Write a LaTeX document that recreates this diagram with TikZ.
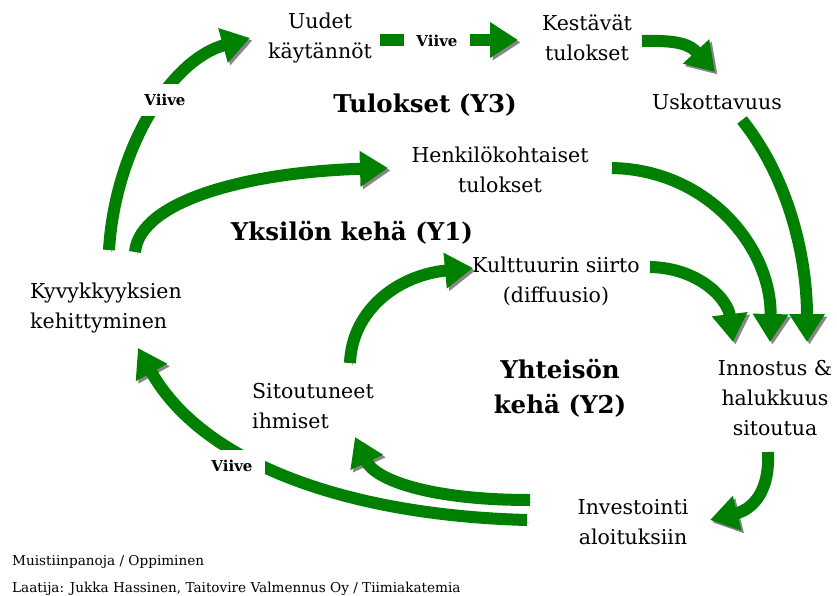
\documentclass[tikz,border=0pt]{standalone}
\usepackage{fontspec}
\setmainfont{DejaVu Serif}
\usetikzlibrary{positioning,arrows.meta,calc}

\definecolor{flowgreen}{RGB}{0,128,0}
\definecolor{flowshade}{RGB}{135,135,135}

\begin{document}
\begin{tikzpicture}[x=1pt, y=-1pt,
  txt/.style={font=\fontsize{20.5}{30}\selectfont, align=center, inner sep=0pt},
  txtl/.style={txt, align=left, anchor=west},
  head/.style={font=\fontsize{24.5}{35}\selectfont\bfseries, align=center, inner sep=0pt},
  delay/.style={font=\fontsize{15}{17}\selectfont\bfseries, fill=white, inner xsep=12pt, inner ysep=10pt},
  note/.style={font=\fontsize{13.6}{15}\selectfont, anchor=west, inner sep=0pt},
  flow/.style={line width=12pt, draw=flowgreen,
    -{Triangle[length=28pt,width=34pt]},
    preaction={draw=flowshade, transform canvas={xshift=2.5pt,yshift=-2.5pt}}}]
  \useasboundingbox (0,0) rectangle (837,596);

  % texts
  \node[txt] (uudet) at (320,38) {Uudet\\käytännöt};
  \node[txt] (kest) at (587,38) {Kestävät\\tulokset};
  \node[txt] (usk) at (717,102) {Uskottavuus};
  \node[txt] (henk) at (500,170) {Henkilökohtaiset\\tulokset};
  \node[txt] (kult) at (556,281) {Kulttuurin siirto\\(diffuusio)};
  \node[txt] (inno) at (775,398) {Innostus \&\\halukkuus\\sitoutua};
  \node[txt] (inv) at (633,522) {Investointi\\aloituksiin};
  \node[txtl] (sit) at (252,406) {Sitoutuneet\\ihmiset};
  \node[txtl] (kyv) at (30,308) {Kyvykkyyksien\\kehittyminen};
  \node[head] (y3) at (425,105) {Tulokset (Y3)};
  \node[head] (y1) at (352,233) {Yksilön kehä (Y1)};
  \node[head] (y2) at (560,388) {Yhteisön\\kehä (Y2)};
  \node[note] (muist) at (12,562) {Muistiinpanoja / Oppiminen};
  \node[note] (laat) at (12,589) {Laatija: Jukka Hassinen, Taitovire Valmennus Oy / Tiimiakatemia};

  % arrows
  \draw[flow] ($(kyv.west)+(79,-58)$) .. controls (115,150) and (170,60) .. ($(uudet)+(-70,0)$);
  \draw[flow] ($(kyv.west)+(105,-56)$) .. controls (140,200) and (250,172) .. ($(henk)+(-112,-2)$);
  \draw[flow] ($(uudet)+(60,2)$) -- ($(kest)+(-69,2)$);
  \draw[flow] ($(kest)+(55,3)$) .. controls (680,40) and (690,45) .. ($(usk)+(-2,-30)$);
  \draw[flow] ($(usk)+(25,18)$) .. controls (790,180) and (807,260) .. ($(inno)+(32,-56)$);
  \draw[flow] ($(henk)+(112,-2)$) .. controls (710,170) and (772,250) .. ($(inno)+(-5,-56)$);
  \draw[flow] ($(kult)+(94,-14)$) .. controls (700,268) and (728,300) .. ($(inno)+(-42,-56)$);
  \draw[flow] ($(sit.west)+(98,-43)$) .. controls (352,310) and (398,275) .. ($(kult.west)+(1,-13)$);
  \draw[flow] ($(inno)+(-7,54)$) .. controls (770,495) and (750,510) .. ($(inv)+(77,-2)$);
  \draw[flow] ($(inv)+(-103,-22)$) .. controls (430,500) and (375,480) .. ($(sit.west)+(103,31)$);
  \draw[flow] ($(inv)+(-106,-2)$) .. controls (340,515) and (200,460) .. ($(kyv.west)+(108,40)$);

  % delays
  \node[delay] (v1) at (165,100) {Viive};
  \node[delay] (v2) at (437,41) {Viive};
  \node[delay] (v3) at (232,466) {Viive};
\end{tikzpicture}
\end{document}
